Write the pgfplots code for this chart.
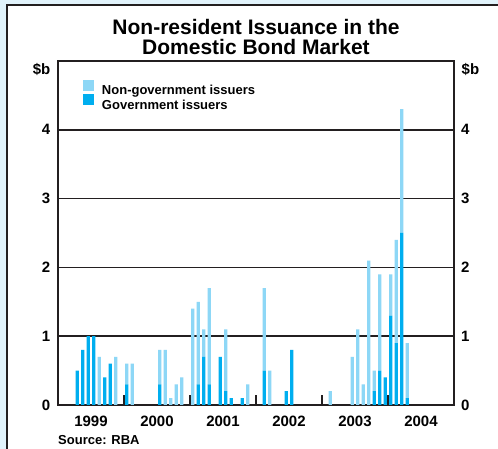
\documentclass[border=0pt]{standalone}
\usepackage{pgfplots}
\pgfplotsset{compat=1.18}
\usepackage{pgfplotstable}
\usepackage{fontspec}
\setmainfont{Liberation Sans}
\definecolor{lightb}{HTML}{8DD7F6}
\definecolor{darkb}{HTML}{00AEEF}
\definecolor{bgb}{HTML}{E1F3FB}
\definecolor{frame}{HTML}{231F20}
\pgfplotstableread{
m gov non
3 0.5 0
4 0.8 0
5 1.0 0
6 1.0 0
7 0 0.7
8 0.4 0
9 0.6 0
10 0 0.7
12 0.3 0.3
13 0 0.6
18 0.3 0.5
19 0 0.8
20 0 0.1
21 0 0.3
22 0 0.4
24 0 1.4
25 0.3 1.2
26 0.7 0.4
27 0.3 1.4
29 0.7 0
30 0.2 0.9
31 0.1 0
33 0.1 0
34 0 0.3
37 0.5 1.2
38 0 0.5
41 0.2 0
42 0.8 0
49 0 0.2
53 0 0.7
54 0 1.1
55 0 0.3
56 0 2.1
57 0.2 0.3
58 0.5 1.4
59 0.4 0
60 1.3 0.6
61 0.9 1.5
62 2.5 1.8
63 0.1 0.8
}\data
\newcommand{\tickfont}{\fontsize{15}{15}\selectfont\bfseries}
\newcommand{\legfont}{\fontsize{13}{13}\selectfont\bfseries}
\begin{document}
\begin{tikzpicture}[x=1pt,y=1pt]
\useasboundingbox (0,0) rectangle (498,449);
\fill[bgb] (0,0) rectangle (498,449);
\fill[white] (7,0) rectangle (498,444);
\draw[frame, line width=1.4pt] (7,-5) -- (7,444) -- (505,444);
\begin{axis}[
  at={(58pt,44pt)}, anchor=south west, scale only axis,
  width=396pt, height=344pt,
  xmin=-0.5, xmax=71.5, ymin=0, ymax=5,
  ybar stacked, bar width=3.2pt,
  axis line style={frame, line width=1.4pt},
  ytick={0,1,2,3,4},
  ymajorgrids, grid style={color=frame, line width=1.5pt},
  ytick style={draw=none},
  /pgf/number format/assume math mode=true,
  yticklabel style={font=\tickfont, inner sep=0pt, xshift=-7.5pt},
  xtick={11.5,23.5,35.5,47.5,59.5}, xticklabels={},
  xtick pos=left, tick align=inside,
  major tick length=10pt,
  x tick style={frame, line width=2pt},
  extra x ticks={5.5,17.5,29.5,41.5,53.5,65.5},
  extra x tick labels={1999,2000,2001,2002,2003,2004},
  extra x tick style={major tick length=0pt, tick style={draw=none}},
  xticklabel style={font=\tickfont, inner sep=0pt, yshift=-11pt},
  legend style={at={(0,1)}, anchor=north west, xshift=24.7pt, yshift=-19pt,
    draw=none, fill=none, inner sep=0pt, row sep=-2pt, font=\legfont,
    nodes={inner sep=0pt},
    /tikz/every odd column/.append style={column sep=8.4pt}},
  legend cell align=left, reverse legend,
]
\addplot[fill=darkb, draw=none,
  legend image code/.code={\fill[darkb] (0pt,0pt) rectangle (10.7pt,10.7pt);}]
  table[x=m,y=gov]{\data};
\addplot[fill=lightb, draw=none,
  legend image code/.code={\fill[lightb] (0pt,0pt) rectangle (10.7pt,10.7pt);}]
  table[x=m,y=non]{\data};
\legend{Government issuers, Non-government issuers}
\end{axis}
\begin{axis}[
  at={(58pt,44pt)}, anchor=south west, scale only axis,
  width=396pt, height=344pt,
  xmin=-0.5, xmax=71.5, ymin=0, ymax=5,
  axis x line=none, axis y line*=right,
  y axis line style={draw=none},
  ytick={0,1,2,3,4}, ytick style={draw=none},
  /pgf/number format/assume math mode=true,
  yticklabel style={font=\tickfont, inner sep=0pt, xshift=7pt},
]
\addplot[draw=none] coordinates {(0,0)};
\end{axis}
\node[anchor=base, font=\fontsize{21}{21}\selectfont\bfseries] at (256,414) {Non-resident Issuance in the};
\node[anchor=base, font=\fontsize{21}{21}\selectfont\bfseries] at (256,394) {Domestic Bond Market};
\node[anchor=base east, inner sep=0pt, font=\tickfont] at (50.5,374.5) {\$b};
\node[anchor=base west, inner sep=0pt, font=\tickfont] at (461.5,374.5) {\$b};
\node[anchor=base west, inner sep=0pt, font=\legfont] at (58,4) {Source: RBA};
\end{tikzpicture}
\end{document}
